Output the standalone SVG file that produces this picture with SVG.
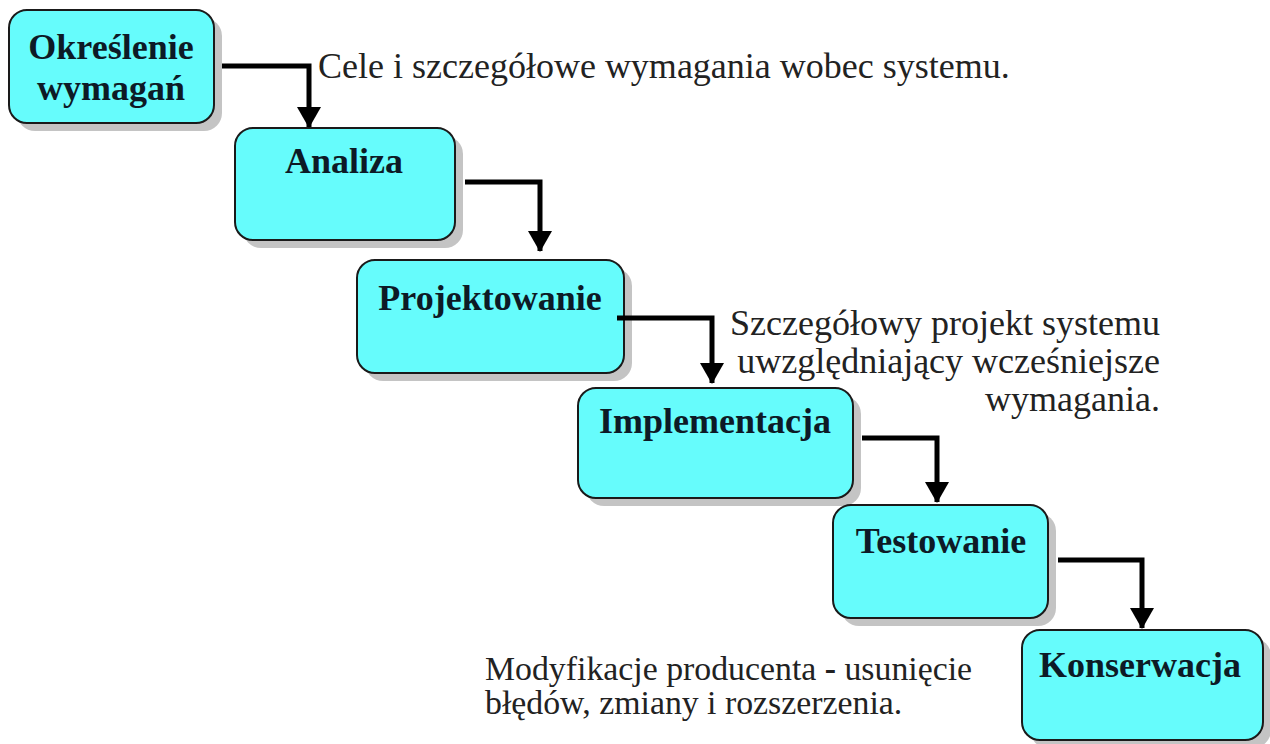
<svg xmlns="http://www.w3.org/2000/svg" width="1270" height="744" viewBox="0 0 1270 744">
  <defs>
    <style>
      .shadow { fill: #c4c4c4; }
      .box { fill: #66fcfc; stroke: #1a1a1a; stroke-width: 2; }
      .label { font-family: "Liberation Serif", "Times New Roman", serif; font-weight: bold; font-size: 36px; fill: #0d1a26; text-anchor: middle; }
      .note { font-family: "Liberation Serif", "Times New Roman", serif; font-size: 36px; fill: #222; }
      .note-sm { font-family: "Liberation Serif", "Times New Roman", serif; font-size: 33.8px; fill: #222; }
      .wire { fill: none; stroke: #000; stroke-width: 5; stroke-linejoin: miter; }
    </style>
    <!-- arrowhead drawn along +x so orient="auto" turns it with the last segment -->
    <marker id="arrow" viewBox="0 0 21 24" refX="20" refY="12" markerWidth="21" markerHeight="24" markerUnits="userSpaceOnUse" orient="auto">
      <path d="M0,0 L21,12 L0,24 Z" fill="#000"/>
    </marker>
  </defs>
  <rect width="1270" height="744" fill="#fff"/>

  <!-- process stages -->
  <g id="node-okreslenie">
    <rect class="shadow" x="17" y="18" width="205" height="113" rx="18"/>
    <rect class="box" x="9" y="10" width="205" height="113" rx="18"/>
    <text class="label" x="111" y="59">Określenie</text>
    <text class="label" x="111" y="100">wymagań</text>
  </g>
  <g id="node-analiza">
    <rect class="shadow" x="243" y="136" width="220" height="112" rx="18"/>
    <rect class="box" x="235" y="128" width="220" height="112" rx="18"/>
    <text class="label" x="344" y="173">Analiza</text>
  </g>
  <g id="node-projektowanie">
    <rect class="shadow" x="365" y="268" width="267" height="113" rx="18"/>
    <rect class="box" x="357" y="260" width="267" height="113" rx="18"/>
    <text class="label" x="490" y="310">Projektowanie</text>
  </g>
  <g id="node-implementacja">
    <rect class="shadow" x="586" y="396" width="275" height="110" rx="18"/>
    <rect class="box" x="578" y="388" width="275" height="110" rx="18"/>
    <text class="label" x="715" y="433">Implementacja</text>
  </g>
  <g id="node-testowanie">
    <rect class="shadow" x="841" y="513" width="215" height="113" rx="18"/>
    <rect class="box" x="833" y="505" width="215" height="113" rx="18"/>
    <text class="label" x="941" y="553">Testowanie</text>
  </g>
  <g id="node-konserwacja">
    <rect class="shadow" x="1030" y="638" width="241" height="110" rx="18"/>
    <rect class="box" x="1022" y="630" width="241" height="110" rx="18"/>
    <text class="label" x="1140" y="677">Konserwacja</text>
  </g>

  <!-- stage-to-stage connectors -->
  <g id="connectors">
    <path class="wire" d="M222,66 H309 V127" marker-end="url(#arrow)"/>
    <path class="wire" d="M465,182 H540 V251" marker-end="url(#arrow)"/>
    <path class="wire" d="M617,318 H712 V383" marker-end="url(#arrow)"/>
    <path class="wire" d="M862,438 H937 V502" marker-end="url(#arrow)"/>
    <path class="wire" d="M1058,560 H1142 V628" marker-end="url(#arrow)"/>
  </g>

  <!-- annotations -->
  <g id="notes">
    <text class="note" x="318" y="78">Cele i szczegółowe wymagania wobec systemu.</text>
    <text class="note" x="1160" y="335" text-anchor="end">Szczegółowy projekt systemu</text>
    <text class="note" x="1160" y="373" text-anchor="end">uwzględniający wcześniejsze</text>
    <text class="note" x="1160" y="411" text-anchor="end">wymagania.</text>
    <text class="note-sm" x="485" y="680">Modyfikacje producenta <tspan font-weight="bold">-</tspan> usunięcie</text>
    <text class="note-sm" x="485" y="714">błędów, zmiany i rozszerzenia.</text>
  </g>
</svg>
